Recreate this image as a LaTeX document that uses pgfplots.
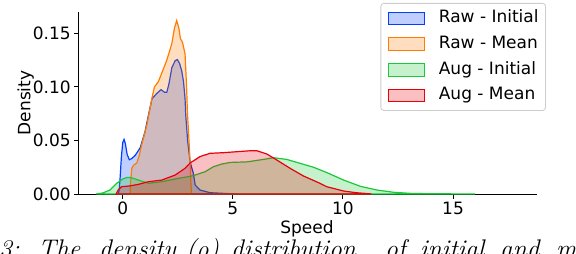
\documentclass[border=0pt]{standalone}
\usepackage{fontspec}
\usepackage{pgfplots}
\pgfplotsset{compat=1.18}
\newfontfamily\dejavu{DejaVu Sans}
\newcommand\cf{\dejavu\fontsize{17}{20}\selectfont}
\definecolor{cblue}{HTML}{023EFF}
\definecolor{corange}{HTML}{FF7C00}
\definecolor{cgreen}{HTML}{1AC938}
\definecolor{cred}{HTML}{E8000B}
\begin{document}
\begin{tikzpicture}[x=1pt,y=1pt]
\useasboundingbox (0,0) rectangle (576,-254);
\clip (0,0) rectangle (576,-254);
\begin{axis}[
 at={(78.7pt,-194pt)}, anchor=south west,
 scale only axis, width=458pt, height=182pt,
 xmin=-2.0, xmax=18.8, ymin=0, ymax=0.17,
 axis x line*=bottom, axis y line*=left,
 axis line style={line width=0.9pt, -, black},
 xtick={0,5,10,15}, ytick={0,0.05,0.10,0.15},
 tick align=outside, major tick length=4.5pt,
 tick style={line width=0.9pt, black},
 ticklabel style={font=\cf},
 /pgf/number format/assume math mode=true,
 y tick label style={/pgf/number format/fixed, /pgf/number format/fixed zerofill, /pgf/number format/precision=2},
 scaled y ticks=false,
 xlabel={Speed}, ylabel={Density},
 label style={font=\cf, inner sep=0pt},
 xlabel style={at={(axis description cs:0.4985,-0.1886)}, anchor=center},
 ylabel style={at={(axis description cs:-0.1155,0.5)}, anchor=center},
 legend cell align=left,
 legend image code/.code={\draw[#1, rounded corners=0pt, line width=1pt] (0pt,-6.35pt) rectangle (36pt,6.35pt);},
 legend style={font=\cf, draw=black!20, line width=0.8pt, rounded corners=3pt, fill=white,
   at={(1.0203,1.0495)}, anchor=north east, inner xsep=7pt, inner ysep=7pt,
   row sep=9.7pt, column sep=14pt,
   nodes={inner sep=0pt, text height=12.5pt, text depth=3.5pt}},
]
\addplot[draw=cblue, fill=cblue, fill opacity=0.25, line width=1.2pt] coordinates {
(-0.2,0) (-0.16,0.004) (-0.12,0.015) (-0.06,0.035) (0.0,0.048) (0.06,0.051) (0.12,0.047)
(0.2,0.037) (0.3,0.032) (0.4,0.033) (0.56,0.036) (0.79,0.043) (1.01,0.058) (1.17,0.074)
(1.33,0.089) (1.55,0.094) (1.74,0.0975) (1.9,0.095) (2.0,0.095) (2.1,0.103) (2.23,0.118)
(2.38,0.1245) (2.48,0.1256) (2.58,0.122) (2.68,0.115) (2.76,0.105) (2.83,0.089) (2.86,0.074)
(2.95,0.049) (3.06,0.030) (3.21,0.019) (3.29,0.0084) (3.51,0.0037) (3.97,0.0012) (4.56,0.0006) (5.2,0)
} \closedcycle;
\addplot[draw=corange, fill=corange, fill opacity=0.25, line width=1.2pt] coordinates {
(0.33,0) (0.36,0.012) (0.41,0.024) (0.5,0.027) (0.64,0.029) (0.75,0.036) (0.86,0.046)
(1.09,0.064) (1.24,0.080) (1.32,0.089) (1.44,0.100) (1.62,0.105) (1.85,0.117) (2.0,0.125)
(2.15,0.135) (2.23,0.1406) (2.35,0.155) (2.45,0.162) (2.55,0.155) (2.62,0.145) (2.71,0.142)
(2.83,0.131) (2.9,0.1) (2.94,0.075) (2.98,0.061) (3.06,0.030) (3.1,0.008) (3.13,0)
} \closedcycle;
\addplot[draw=cgreen, fill=cgreen, fill opacity=0.25, line width=1.2pt] coordinates {
(-1.2,0) (-0.9,0.001) (-0.58,0.0037) (-0.27,0.010) (0,0.014) (0.2,0.0155) (0.35,0.0155)
(0.71,0.013) (1.17,0.010) (1.77,0.0115) (2.53,0.0146) (3.06,0.0165) (3.29,0.0177) (3.74,0.0208)
(4.12,0.0255) (4.5,0.028) (4.88,0.0295) (5.64,0.030) (6.39,0.0323) (6.85,0.0339) (7.45,0.0323)
(8.06,0.0286) (8.66,0.0250) (9.27,0.020) (10.03,0.013) (10.79,0.0072) (11.55,0.0037)
(12.3,0.0016) (13.06,0.0006) (13.8,0.0003) (15.2,0.0001) (16.0,0)
} \closedcycle;
\addplot[draw=cred, fill=cred, fill opacity=0.25, line width=1.2pt] coordinates {
(-0.3,0) (-0.2,0.004) (-0.05,0.0068) (0.3,0.0075) (0.71,0.009) (1.17,0.0115) (1.77,0.013)
(2.38,0.0177) (2.83,0.024) (3.06,0.029) (3.29,0.032) (3.51,0.035) (3.74,0.0365) (3.97,0.038)
(4.57,0.0386) (5.18,0.0395) (5.79,0.0404) (6.09,0.0404) (6.55,0.0373) (7.0,0.0317) (7.6,0.024)
(8.21,0.0168) (8.89,0.0106) (9.27,0.0068) (10.03,0.0028) (10.6,0.0012) (11.16,0.0003) (11.3,0)
} \closedcycle;
\legend{Raw - Initial, Raw - Mean, Aug - Initial, Aug - Mean}
\end{axis}
\begin{scope}[font=\fontsize{25.5}{30}\selectfont\itshape]
\node[anchor=base west, inner sep=0] at (-1,-257.5) {3:};
\node[anchor=base west, inner sep=0] at (38,-257.5) {The};
\node[anchor=base west, inner sep=0] at (99,-257.5) {density};
\node[anchor=base west, inner sep=0] at (186,-257.5) {($\rho$)};
\node[anchor=base west, inner sep=0] at (231,-257.5) {distribution};
\node[anchor=base west, inner sep=0] at (385,-257.5) {of};
\node[anchor=base west, inner sep=0] at (420,-257.5) {initial};
\node[anchor=base west, inner sep=0] at (500,-257.5) {and};
\node[anchor=base west, inner sep=0] at (556,-257.5) {mean};
\end{scope}
\end{tikzpicture}
\end{document}
